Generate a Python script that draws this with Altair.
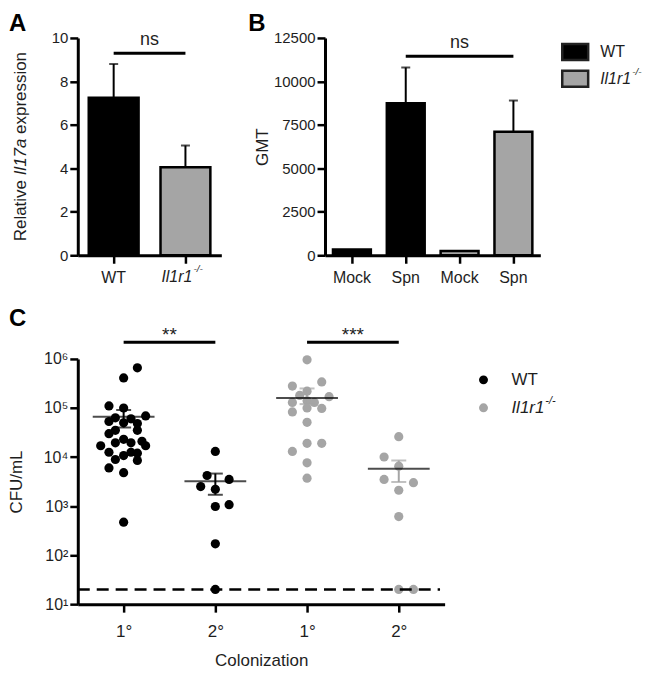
import json
import altair as alt
import pandas as pd

FONT = "Liberation Sans"
INK = "#1e1e1e"
WT_COLOR = "#000000"
KO_COLOR = "#a5a5a5"

# ---------------- data ----------------
genotypes = ["WT", "Il1r1"]

# Panel A : relative Il17a expression
a_groups = ["WT", "Il1r1"]
a_means = [7.25, 4.05]
a_tops = [8.8, 5.05]          # mean + SEM
a_ns_level = 9.3
a_y_ticks = [0, 2, 4, 6, 8, 10]

# Panel B : GMT
b_keys = ["WT Mock", "WT Spn", "Il1r1 Mock", "Il1r1 Spn"]
b_groups = ["WT", "WT", "Il1r1", "Il1r1"]
b_labels = ["Mock", "Spn", "Mock", "Spn"]
b_means = [330, 8750, 250, 7100]
b_tops = [None, 10800, None, 8900]
b_ns_pair = ["WT Spn", "Il1r1 Spn"]
b_ns_mid = "Il1r1 Mock"
b_ns_level = 11450
b_y_ticks = [0, 2500, 5000, 7500, 10000, 12500]

# Panel C : CFU/mL
c_positions = [1, 2, 3, 4]
c_x_labels = ["1°", "2°", "1°", "2°"]
c_groups = ["WT", "WT", "Il1r1", "Il1r1"]
c_y_ticks = [1e1, 1e2, 1e3, 1e4, 1e5, 1e6]
c_y_labels = ["10¹", "10²", "10³", "10⁴", "10⁵", "10⁶"]

wt1_vals = [6.6e5, 4.1e5, 1.1e5, 1.0e5, 6.3e4, 5.3e4, 6.0e4, 6.9e4, 5.0e4, 4.8e4,
            3.5e4, 3.0e4, 3.5e4, 2.3e4, 1.95e4, 1.95e4, 1.7e4, 2.1e4, 1.7e4, 1.25e4,
            1.07e4, 1.25e4, 1.2e4, 8.9e3, 8.5e3, 6.0e3, 4.8e3, 470]
wt1_jit = [0.15, 0, -0.16, 0, -0.09, -0.16, 0.08, 0.24, 0, 0.15,
           -0.09, -0.16, 0.15, 0, -0.09, 0.08, -0.25, 0.2, 0.24, -0.16,
           0, 0.08, 0.15, -0.09, 0.15, -0.16, 0, 0]
wt2_vals = [1.3e4, 4.2e3, 3.5e3, 2.5e3, 2.2e3, 980, 1.07e3, 170, 20]
wt2_jit = [0, -0.09, 0.15, -0.16, 0, 0, 0.15, 0, 0]
ko1_vals = [9.6e5, 2.8e5, 3.4e5, 2.2e5, 1.8e5, 1.7e5, 1.3e5, 1.4e5, 1.3e5, 8.3e4,
            1.0e5, 9.8e4, 5.1e4, 1.9e4, 1.9e4, 1.3e4, 7.6e3, 3.7e3]
ko1_jit = [0, -0.16, 0.16, 0, -0.08, 0.24, -0.16, 0, 0.08, -0.16,
           0, 0.16, 0, 0, 0.16, -0.16, 0, 0]
ko2_vals = [2.6e4, 1.0e4, 6.5e3, 3.5e3, 3.0e3, 2.1e3, 610, 20, 20]
ko2_jit = [0, -0.16, 0, -0.16, 0.16, 0, 0, 0, 0.16]

c_means = [6.6e4, 3.2e3, 1.6e5, 5.8e3]
c_sem_hi = [9.1e4, 4.6e3, 2.5e5, 8.5e3]
c_sem_lo = [4.0e4, 1.7e3, 1.2e5, 3.1e3]
c_limit = 20
c_sig_labels = ["**", "***"]
c_sig_from = [1, 3]
c_sig_to = [2, 4]
c_sig_level = 2.2e6

# ---------------- layout ----------------
AW, AH = 144, 218
BW, BH = 216, 218
CW, CH = 368, 246
GAP = 104
ROW_GAP = 22
LETTER_BASE = -7

ARIAL = {"R": .722, "e": .556, "l": .222, "a": .556, "t": .278, "i": .222, "v": .5,
         " ": .278, "I": .278, "1": .556, "7": .556, "x": .5, "p": .556, "r": .333,
         "s": .5, "o": .556, "n": .556, "-": .333, "/": .278}


def tw(s, size):
    return sum(ARIAL.get(c, .556) for c in s) * size


def ax(**kw):
    d = dict(domainColor="black", domainWidth=3, tickColor="black", tickWidth=2.5,
             tickSize=8, labelFont=FONT, labelFontSize=15, labelColor=INK,
             labelPadding=2, grid=False, title=None, titleFont=FONT,
             titleFontWeight="normal", titleColor=INK, titleFontSize=17)
    d.update(kw)
    return alt.Axis(**d)


color_scale = alt.Scale(domain=genotypes, range=[WT_COLOR, KO_COLOR])
one = pd.DataFrame({"k": [0]})


def text_at(t, x, y, size=17, style="normal", weight="normal", align="left",
            baseline="alphabetic", angle=0, color=INK):
    return alt.Chart(pd.DataFrame({"t": [t]})).mark_text(
        font=FONT, fontSize=size, fontStyle=style, fontWeight=weight, align=align,
        baseline=baseline, angle=angle, color=color
    ).encode(x=alt.value(x), y=alt.value(y), text="t:N")


def ko_run(x, y, size):
    """'Il1r1' italic with superscript -/- starting at x, middle baseline at y."""
    main = text_at("Il1r1", x, y, size=size, style="italic", baseline="middle")
    sup = text_at("-/-", x + tw("Il1r1", size) + 1, y - 0.42 * size, size=round(size * 0.62),
                  style="italic", baseline="middle")
    return [main, sup]


# ---------------- Panel A ----------------
a_df = pd.DataFrame({"group": a_groups, "mean": a_means, "top": a_tops})
a_x = alt.X("group:N", scale=alt.Scale(domain=a_groups, paddingInner=0, paddingOuter=0),
            axis=ax(labelExpr="datum.value == 'WT' ? 'WT' : ''", labelAngle=0,
                    labelFontSize=16, labelPadding=6))
a_yscale = alt.Scale(domain=[0, 10], nice=False)

a_bars = alt.Chart(a_df).mark_bar(size=50, stroke="black", strokeWidth=2.5).encode(
    x=a_x, y=alt.Y("mean:Q", scale=a_yscale, axis=ax(values=a_y_ticks)),
    color=alt.Color("group:N", scale=color_scale, legend=None))
a_err = alt.Chart(a_df).mark_rule(color="black", strokeWidth=2).encode(
    x="group:N", y="mean:Q", y2="top:Q")
a_cap = alt.Chart(a_df).mark_tick(color="black", size=9, thickness=2, orient="horizontal").encode(
    x="group:N", y="top:Q")

a_ns_df = pd.DataFrame({"group": [a_groups[0]], "group2": [a_groups[1]],
                        "level": [a_ns_level], "label": ["ns"]})
a_ns_line = alt.Chart(a_ns_df).mark_rule(color="black", strokeWidth=3).encode(
    x="group:N", x2="group2:N", y="level:Q")
a_ns_text = alt.Chart(a_ns_df).mark_text(font=FONT, fontSize=18, baseline="alphabetic",
                                         dy=-8, color=INK).encode(
    x=alt.X("group:N", bandPosition=1), y="level:Q", text="label:N")

a_lab_df = pd.DataFrame({"group": [a_groups[1]], "t": ["Il1r1"], "s": ["-/-"]})
a_lab_main = alt.Chart(a_lab_df).mark_text(font=FONT, fontSize=16, fontStyle="italic", align="right",
                                           baseline="top", dx=7, color=INK).encode(
    x="group:N", y=alt.value(AH + 14), text="t:N")
a_lab_sup = alt.Chart(a_lab_df).mark_text(font=FONT, fontSize=10, fontStyle="italic", align="left",
                                          baseline="top", dx=8, color=INK).encode(
    x="group:N", y=alt.value(AH + 9), text="s:N")

# y title with italic gene name, built bottom-to-top
TS = 17
pieces = [("Relative", "normal", tw("Relative ", TS)),
          ("Il17a", "italic", tw("Il17a ", TS)),
          ("expression", "normal", tw("expression", TS))]
total = sum(p[2] for p in pieces)
y0 = AH / 2 + total / 2
a_title = []
for t, st, w in pieces:
    a_title.append(text_at(t, -52, y0, size=TS, style=st, align="left", angle=270))
    y0 -= w

A = alt.layer(a_bars, a_err, a_cap, a_ns_line, a_ns_text, a_lab_main, a_lab_sup, *a_title,
              text_at("A", -69, LETTER_BASE, size=24, weight="bold", color="black")
              ).properties(width=AW, height=AH)

# ---------------- Panel B ----------------
b_df = pd.DataFrame({"key": b_keys, "group": b_groups, "label": b_labels,
                     "mean": b_means, "top": b_tops})
b_x = alt.X("key:N", scale=alt.Scale(domain=b_keys, paddingInner=0, paddingOuter=0),
            axis=ax(labelExpr="split(datum.value, ' ')[1]", labelAngle=0,
                    labelFontSize=16, labelPadding=6))
b_yscale = alt.Scale(domain=[0, 12500], nice=False)
b_bars = alt.Chart(b_df).mark_bar(size=38, stroke="black", strokeWidth=2.5).encode(
    x=b_x,
    y=alt.Y("mean:Q", scale=b_yscale,
            axis=ax(values=b_y_ticks, format="d", title="GMT", titleX=-58, titleY=BH / 2,
                    titleAngle=270, titleAlign="center", titleBaseline="alphabetic")),
    color=alt.Color("group:N", scale=color_scale, legend=None))
b_err_base = alt.Chart(b_df).transform_filter("isValid(datum.top)")
b_err = b_err_base.mark_rule(color="black", strokeWidth=2).encode(x="key:N", y="mean:Q", y2="top:Q")
b_cap = b_err_base.mark_tick(color="black", size=9, thickness=2, orient="horizontal").encode(
    x="key:N", y="top:Q")

b_ns_df = pd.DataFrame({"key": [b_ns_pair[0]], "key2": [b_ns_pair[1]], "mid": [b_ns_mid],
                        "level": [b_ns_level], "label": ["ns"]})
b_ns_line = alt.Chart(b_ns_df).mark_rule(color="black", strokeWidth=3).encode(
    x="key:N", x2="key2:N", y="level:Q")
b_ns_text = alt.Chart(b_ns_df).mark_text(font=FONT, fontSize=18, baseline="alphabetic",
                                         dy=-8, color=INK).encode(
    x="mid:N", y="level:Q", text="label:N")

b_legend = []
for i, (g, col) in enumerate(zip(genotypes, [WT_COLOR, KO_COLOR])):
    top = 6 + 27 * i
    b_legend.append(alt.Chart(one).mark_rect(stroke="#222", strokeWidth=2.5).encode(
        x=alt.value(238), x2=alt.value(264), y=alt.value(top), y2=alt.value(top + 16),
        color=alt.value(col)))
    if g == "WT":
        b_legend.append(text_at("WT", 276, top + 8, size=16, baseline="middle"))
    else:
        b_legend.extend(ko_run(276, top + 8, 16))

B = alt.layer(b_bars, b_err, b_cap, b_ns_line, b_ns_text, *b_legend,
              text_at("B", -77, LETTER_BASE, size=24, weight="bold", color="black")
              ).properties(width=BW, height=BH)

# ---------------- Panel C ----------------
rows = []
for pos, grp, vals, jits in [(1, "WT", wt1_vals, wt1_jit), (2, "WT", wt2_vals, wt2_jit),
                             (3, "Il1r1", ko1_vals, ko1_jit), (4, "Il1r1", ko2_vals, ko2_jit)]:
    for v, j in zip(vals, jits):
        rows.append({"pos": pos, "jit": j, "value": v, "group": grp})
c_pts_df = pd.DataFrame(rows)
c_stats = pd.DataFrame({"pos": c_positions, "group": c_groups, "mean": c_means,
                        "hi": c_sem_hi, "lo": c_sem_lo})

c_xscale = alt.Scale(domain=[0.5, 4.5], nice=False, zero=False)
c_yscale = alt.Scale(type="log", domain=[10, 1e6], nice=False)
xl = json.dumps(c_x_labels, ensure_ascii=False)
yl = json.dumps(c_y_labels, ensure_ascii=False)
c_x_axis = ax(values=c_positions, labelExpr=f"{xl}[datum.value - 1]", labelFontSize=17,
              labelPadding=11, title="Colonization", titlePadding=14)
c_y_axis = ax(values=c_y_ticks, labelExpr=f"{yl}[round(log(datum.value) / LN10) - 1]",
              labelFontSize=16, title="CFU/mL", titleX=-56, titleY=CH / 2, titleAngle=270,
              titleAlign="center", titleBaseline="alphabetic")

c_points = alt.Chart(c_pts_df).transform_calculate(xp="datum.pos + datum.jit").mark_circle(
    size=85, opacity=1).encode(
    x=alt.X("xp:Q", scale=c_xscale, axis=c_x_axis),
    y=alt.Y("value:Q", scale=c_yscale, axis=c_y_axis),
    color=alt.Color("group:N", scale=color_scale, legend=None))
c_err = alt.Chart(c_stats).mark_rule(strokeWidth=2).encode(
    x="pos:Q", y="lo:Q", y2="hi:Q", color=alt.Color("group:N", scale=color_scale, legend=None))
c_cap_hi = alt.Chart(c_stats).mark_tick(orient="horizontal", size=15, thickness=2).encode(
    x="pos:Q", y="hi:Q", color=alt.Color("group:N", scale=color_scale, legend=None))
c_cap_lo = alt.Chart(c_stats).mark_tick(orient="horizontal", size=15, thickness=2).encode(
    x="pos:Q", y="lo:Q", color=alt.Color("group:N", scale=color_scale, legend=None))
c_mean = alt.Chart(c_stats).mark_tick(orient="horizontal", size=62, thickness=2,
                                      color="black").encode(x="pos:Q", y="mean:Q")
c_lim = alt.Chart(pd.DataFrame({"lim": [c_limit]})).mark_rule(
    strokeDash=[12, 7], strokeWidth=2.5, color="black").encode(
    y="lim:Q", x=alt.datum(0.5), x2=alt.datum(4.45))

c_sig_df = pd.DataFrame({"x1": c_sig_from, "x2": c_sig_to,
                         "mid": [(a + b) / 2 for a, b in zip(c_sig_from, c_sig_to)],
                         "label": c_sig_labels, "level": [c_sig_level] * len(c_sig_labels)})
c_sig_line = alt.Chart(c_sig_df).mark_rule(color="black", strokeWidth=3).encode(
    x="x1:Q", x2="x2:Q", y="level:Q")
c_sig_text = alt.Chart(c_sig_df).mark_text(font=FONT, fontSize=19, baseline="alphabetic",
                                           dy=-1, color=INK).encode(
    x="mid:Q", y="level:Q", text="label:N")

c_legend = []
for i, (g, col) in enumerate(zip(genotypes, [WT_COLOR, KO_COLOR])):
    yy = 21 + 28 * i
    c_legend.append(alt.Chart(one).mark_circle(size=80, opacity=1).encode(
        x=alt.value(407), y=alt.value(yy), color=alt.value(col)))
    if g == "WT":
        c_legend.append(text_at("WT", 435, yy, size=17, baseline="middle"))
    else:
        c_legend.extend(ko_run(435, yy, 17))

C = alt.layer(c_points, c_lim, c_err, c_cap_hi, c_cap_lo, c_mean, c_sig_line, c_sig_text,
              *c_legend, text_at("C", -69, -33, size=24, weight="bold", color="black")
              ).properties(width=CW, height=CH)

top_row = alt.hconcat(A, B, spacing=GAP, bounds="flush")
chart = alt.vconcat(top_row, C, spacing=ROW_GAP).properties(
    padding={"top": 3, "left": 0, "right": 0, "bottom": 0}
).configure(font=FONT).configure_view(stroke=None)

chart.save("out.html", embed_options={"renderer": "svg", "actions": False})
